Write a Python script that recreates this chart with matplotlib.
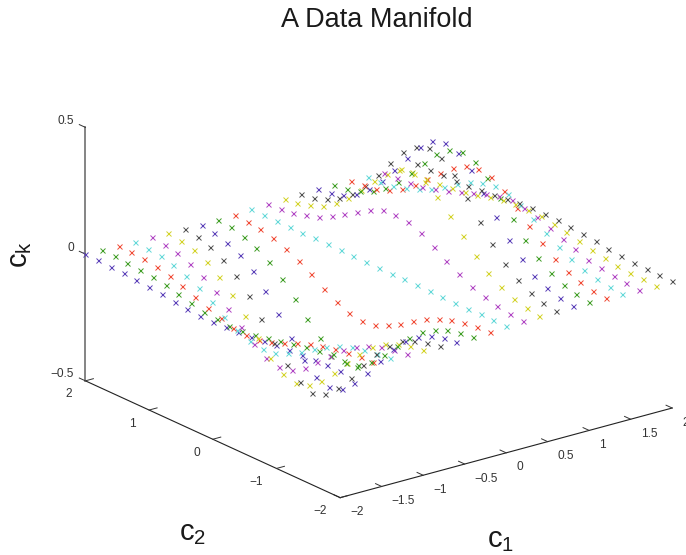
import matplotlib
matplotlib.use("Agg")
import matplotlib.pyplot as plt

plt.rcParams['font.family'] = ['Liberation Sans', 'DejaVu Sans']
plt.rcParams['mathtext.fontset'] = 'custom'
plt.rcParams['mathtext.rm'] = 'Liberation Sans'

# grid values
c1_values = [-2.0, -1.8, -1.6, -1.4, -1.2, -1.0, -0.8, -0.6, -0.4, -0.2, 0.0,
             0.2, 0.4, 0.6, 0.8, 1.0, 1.2, 1.4, 1.6, 1.8, 2.0]
c2_values = [-2.0, -1.8, -1.6, -1.4, -1.2, -1.0, -0.8, -0.6, -0.4, -0.2, 0.0,
             0.2, 0.4, 0.6, 0.8, 1.0, 1.2, 1.4, 1.6, 1.8, 2.0]

# ck along c2, one list per c1 value
ck_m20 = [-.001, -.001, -.003, -.005, -.009, -.013, -.019, -.026, -.031, -.035, -.037, -.035, -.031, -.026, -.019, -.013, -.009, -.005, -.003, -.001, -.001]
ck_m18 = [-.001, -.003, -.005, -.010, -.017, -.026, -.037, -.049, -.060, -.068, -.070, -.068, -.060, -.049, -.037, -.026, -.017, -.010, -.005, -.003, -.001]
ck_m16 = [-.002, -.005, -.010, -.017, -.029, -.046, -.065, -.086, -.105, -.119, -.124, -.119, -.105, -.086, -.065, -.046, -.029, -.017, -.010, -.005, -.002]
ck_m14 = [-.004, -.008, -.015, -.028, -.047, -.073, -.104, -.138, -.168, -.189, -.197, -.189, -.168, -.138, -.104, -.073, -.047, -.028, -.015, -.008, -.004]
ck_m12 = [-.005, -.011, -.022, -.040, -.067, -.105, -.150, -.198, -.242, -.273, -.284, -.273, -.242, -.198, -.150, -.105, -.067, -.040, -.022, -.011, -.005]
ck_m10 = [-.007, -.014, -.028, -.052, -.087, -.135, -.194, -.257, -.313, -.353, -.368, -.353, -.313, -.257, -.194, -.135, -.087, -.052, -.028, -.014, -.007]
ck_m08 = [-.008, -.017, -.033, -.059, -.100, -.155, -.222, -.294, -.359, -.405, -.422, -.405, -.359, -.294, -.222, -.155, -.100, -.059, -.033, -.017, -.008]
ck_m06 = [-.008, -.016, -.032, -.059, -.099, -.154, -.221, -.292, -.357, -.402, -.419, -.402, -.357, -.292, -.221, -.154, -.099, -.059, -.032, -.016, -.008]
ck_m04 = [-.006, -.013, -.026, -.048, -.081, -.125, -.180, -.238, -.290, -.327, -.341, -.327, -.290, -.238, -.180, -.125, -.081, -.048, -.026, -.013, -.006]
ck_m02 = [-.004, -.008, -.015, -.027, -.046, -.071, -.101, -.134, -.164, -.185, -.192, -.185, -.164, -.134, -.101, -.071, -.046, -.027, -.015, -.008, -.004]
ck_00 = [0, 0, 0, 0, 0, 0, 0, 0, 0, 0, 0, 0, 0, 0, 0, 0, 0, 0, 0, 0, 0]
ck_p02 = [.004, .008, .015, .027, .046, .071, .101, .134, .164, .185, .192, .185, .164, .134, .101, .071, .046, .027, .015, .008, .004]
ck_p04 = [.006, .013, .026, .048, .081, .125, .180, .238, .290, .327, .341, .327, .290, .238, .180, .125, .081, .048, .026, .013, .006]
ck_p06 = [.008, .016, .032, .059, .099, .154, .221, .292, .357, .402, .419, .402, .357, .292, .221, .154, .099, .059, .032, .016, .008]
ck_p08 = [.008, .017, .033, .059, .100, .155, .222, .294, .359, .405, .422, .405, .359, .294, .222, .155, .100, .059, .033, .017, .008]
ck_p10 = [.007, .014, .028, .052, .087, .135, .194, .257, .313, .353, .368, .353, .313, .257, .194, .135, .087, .052, .028, .014, .007]
ck_p12 = [.005, .011, .022, .040, .067, .105, .150, .198, .242, .273, .284, .273, .242, .198, .150, .105, .067, .040, .022, .011, .005]
ck_p14 = [.004, .008, .015, .028, .047, .073, .104, .138, .168, .189, .197, .189, .168, .138, .104, .073, .047, .028, .015, .008, .004]
ck_p16 = [.002, .005, .010, .017, .029, .046, .065, .086, .105, .119, .124, .119, .105, .086, .065, .046, .029, .017, .010, .005, .002]
ck_p18 = [.001, .003, .005, .010, .017, .026, .037, .049, .060, .068, .070, .068, .060, .049, .037, .026, .017, .010, .005, .003, .001]
ck_p20 = [.001, .001, .003, .005, .009, .013, .019, .026, .031, .035, .037, .035, .031, .026, .019, .013, .009, .005, .003, .001, .001]

ck_columns = [ck_m20, ck_m18, ck_m16, ck_m14, ck_m12, ck_m10, ck_m08, ck_m06, ck_m04, ck_m02, ck_00,
              ck_p02, ck_p04, ck_p06, ck_p08, ck_p10, ck_p12, ck_p14, ck_p16, ck_p18, ck_p20]

# colours cycle per column
line_colors = ['#5a3fb8', '#3f9e25', '#f04a35', '#62d8d8', '#b045c4', '#d2d226', '#505050']

c1_ticks = [-2, -1.5, -1, -0.5, 0, 0.5, 1, 1.5, 2]
c1_labels = ['\u22122', '\u22121.5', '\u22121', '\u22120.5', '0', '0.5', '1', '1.5', '2']
c2_ticks = [-2, -1, 0, 1, 2]
c2_labels = ['\u22122', '\u22121', '0', '1', '2']
ck_ticks = [-0.5, 0, 0.5]
ck_labels = ['\u22120.5', '0', '0.5']


def main():
    fig = plt.figure(figsize=(6.86, 5.55), dpi=100)

    # square axes, shifted so the box centre lands in the right spot
    size = 540
    left_px = 381 - 9.5 - size / 2
    bottom_px = 555 - 267 - 8 - size / 2
    ax = fig.add_axes([left_px / 686, bottom_px / 555, size / 686, size / 555],
                      projection='3d', proj_type='ortho', computed_zorder=False)
    ax.view_init(elev=20.6, azim=-127.5)
    ax.set_box_aspect((1, 1, 0.647), zoom=1.170)

    for i, col in enumerate(ck_columns):
        ax.plot([c1_values[i]] * len(c2_values), c2_values, col, linestyle='none', marker='x',
                markersize=3.6, markeredgewidth=0.7, color=line_colors[i % 7], clip_on=False)

    ax.set_xlim(-2, 2, view_margin=0)
    ax.set_ylim(-2, 2, view_margin=0)
    ax.set_zlim(-0.5, 0.5, view_margin=0)

    ax.set_xticks(c1_ticks)
    ax.set_xticklabels(c1_labels, va='center', ha='left')
    ax.set_yticks(c2_ticks)
    ax.set_yticklabels(c2_labels, va='center', ha='right')
    ax.set_zticks(ck_ticks)
    ax.set_zticklabels(ck_labels, ha='right', va='bottom')
    ax.tick_params(labelsize=8.6, colors='#333333', pad=0)
    ax.tick_params(axis='z', pad=-4)

    ax.grid(False)
    for axis in (ax.xaxis, ax.yaxis, ax.zaxis):
        axis.pane.set_visible(False)
        axis.line.set_color('#222222')
        axis.line.set_linewidth(0.8)
        axis._axinfo['tick']['inward_factor'] = 0.0
        axis._axinfo['tick']['outward_factor'] = 0.3
        axis._axinfo['tick']['linewidth'] = {True: 0.7, False: 0.5}
    ax.zaxis.line.set_color('#707070')
    ax.zaxis.line.set_linewidth(1.2)
    # z ticks point along c2 here
    ax.zaxis._get_tickdir = lambda position: 1

    fig.text(193 / 686, 1 - 533 / 555, r'$\mathregular{c_2}$', fontsize=21, ha='center', va='center', color='#1a1a1a')
    fig.text(501 / 686, 1 - 540 / 555, r'$\mathregular{c_1}$', fontsize=21, ha='center', va='center', color='#1a1a1a')
    fig.text(20 / 686, 1 - 254 / 555, r'$\mathregular{c_k}$', fontsize=21, ha='center', va='center',
             rotation=90, color='#1a1a1a')

    fig.suptitle('A Data Manifold', x=377 / 686, y=1 - 20 / 555, fontsize=19.5, va='center', color='#1a1a1a')

    fig.savefig('out.png', dpi=100)


if __name__ == "__main__":
    main()
